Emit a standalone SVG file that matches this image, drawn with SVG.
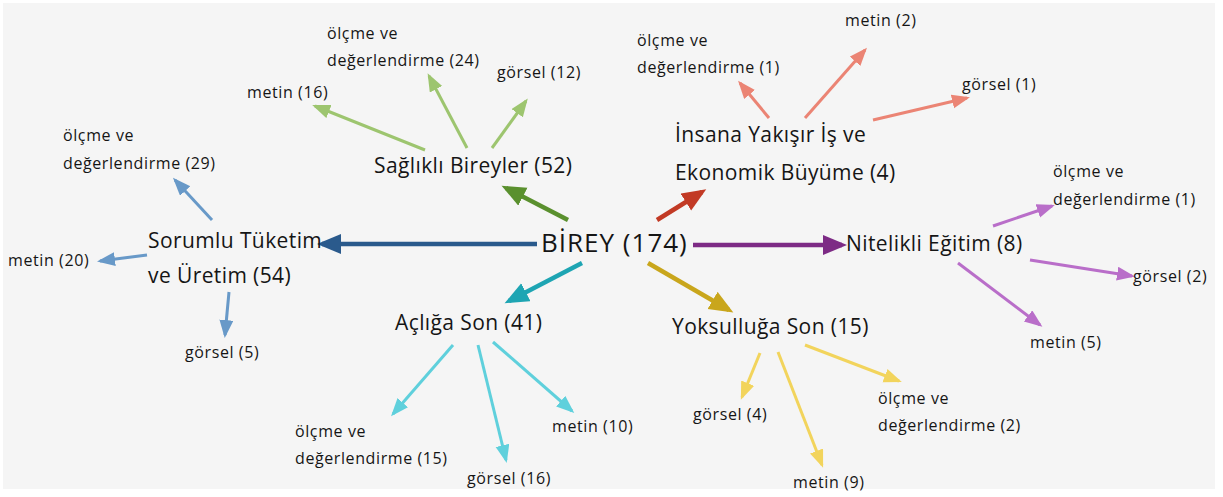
<svg xmlns="http://www.w3.org/2000/svg" width="1223" height="497" viewBox="0 0 1223 497">
<style>
text{font-family:"Open Sans","Noto Sans","DejaVu Sans",sans-serif;fill:#151515}
.c{font-size:26px;letter-spacing:1px}
.m{font-size:21px;letter-spacing:0.4px}
.s{font-size:16px;letter-spacing:0.6px}
.main{stroke-width:4.5;fill:none}
.sub{stroke-width:3;fill:none}
</style>
<defs>
<marker id="mB" markerUnits="userSpaceOnUse" markerWidth="26" markerHeight="22" refX="19" refY="10" orient="auto"><path d="M0,0L24,10L0,20z" fill="#2a5a8c"/></marker>
<marker id="mP" markerUnits="userSpaceOnUse" markerWidth="26" markerHeight="22" refX="19" refY="10" orient="auto"><path d="M0,0L24,10L0,20z" fill="#7d2b85"/></marker>
<marker id="mG" markerUnits="userSpaceOnUse" markerWidth="26" markerHeight="22" refX="19" refY="10" orient="auto"><path d="M0,0L24,10L0,20z" fill="#5a902e"/></marker>
<marker id="mR" markerUnits="userSpaceOnUse" markerWidth="26" markerHeight="22" refX="19" refY="10" orient="auto"><path d="M0,0L24,10L0,20z" fill="#c23a25"/></marker>
<marker id="mT" markerUnits="userSpaceOnUse" markerWidth="26" markerHeight="22" refX="19" refY="10" orient="auto"><path d="M0,0L24,10L0,20z" fill="#1ea5b3"/></marker>
<marker id="mY" markerUnits="userSpaceOnUse" markerWidth="26" markerHeight="22" refX="19" refY="10" orient="auto"><path d="M0,0L24,10L0,20z" fill="#c9a61c"/></marker>
<marker id="sB" markerUnits="userSpaceOnUse" markerWidth="20" markerHeight="16" refX="15" refY="7" orient="auto"><path d="M0,0L18,7L0,14z" fill="#6899c8"/></marker>
<marker id="sP" markerUnits="userSpaceOnUse" markerWidth="20" markerHeight="16" refX="15" refY="7" orient="auto"><path d="M0,0L18,7L0,14z" fill="#b96ec9"/></marker>
<marker id="sG" markerUnits="userSpaceOnUse" markerWidth="20" markerHeight="16" refX="15" refY="7" orient="auto"><path d="M0,0L18,7L0,14z" fill="#9dc56f"/></marker>
<marker id="sR" markerUnits="userSpaceOnUse" markerWidth="20" markerHeight="16" refX="15" refY="7" orient="auto"><path d="M0,0L18,7L0,14z" fill="#eb8474"/></marker>
<marker id="sT" markerUnits="userSpaceOnUse" markerWidth="20" markerHeight="16" refX="15" refY="7" orient="auto"><path d="M0,0L18,7L0,14z" fill="#5fd0dc"/></marker>
<marker id="sY" markerUnits="userSpaceOnUse" markerWidth="20" markerHeight="16" refX="15" refY="7" orient="auto"><path d="M0,0L18,7L0,14z" fill="#f2d45c"/></marker>
</defs>
<rect x="0" y="0" width="1223" height="497" fill="#ffffff"/>
<rect x="3" y="3" width="1212" height="486" fill="#f5f5f5"/>
<g id="connectors">
<line class="main" x1="537" y1="244" x2="322" y2="244" stroke="#2a5a8c" marker-end="url(#mB)"/>
<line class="main" x1="693" y1="245" x2="842" y2="245" stroke="#7d2b85" marker-end="url(#mP)"/>
<line class="main" x1="568" y1="220" x2="506" y2="188" stroke="#5a902e" marker-end="url(#mG)"/>
<line class="main" x1="657" y1="220" x2="702" y2="192" stroke="#c23a25" marker-end="url(#mR)"/>
<line class="main" x1="582" y1="263" x2="509" y2="301" stroke="#1ea5b3" marker-end="url(#mT)"/>
<line class="main" x1="648" y1="263" x2="729" y2="310" stroke="#c9a61c" marker-end="url(#mY)"/>
<line class="sub" x1="212" y1="220" x2="175" y2="180" stroke="#6899c8" marker-end="url(#sB)"/>
<line class="sub" x1="147" y1="255" x2="100" y2="261" stroke="#6899c8" marker-end="url(#sB)"/>
<line class="sub" x1="229" y1="292" x2="225" y2="335" stroke="#6899c8" marker-end="url(#sB)"/>
<line class="sub" x1="425" y1="150" x2="315" y2="106" stroke="#9dc56f" marker-end="url(#sG)"/>
<line class="sub" x1="467" y1="148" x2="429" y2="76" stroke="#9dc56f" marker-end="url(#sG)"/>
<line class="sub" x1="492" y1="148" x2="526" y2="101" stroke="#9dc56f" marker-end="url(#sG)"/>
<line class="sub" x1="769" y1="118" x2="740" y2="83" stroke="#eb8474" marker-end="url(#sR)"/>
<line class="sub" x1="805" y1="118" x2="865" y2="50" stroke="#eb8474" marker-end="url(#sR)"/>
<line class="sub" x1="873" y1="120" x2="967" y2="98" stroke="#eb8474" marker-end="url(#sR)"/>
<line class="sub" x1="993" y1="226" x2="1052" y2="206" stroke="#b96ec9" marker-end="url(#sP)"/>
<line class="sub" x1="1030" y1="260" x2="1132" y2="276" stroke="#b96ec9" marker-end="url(#sP)"/>
<line class="sub" x1="958" y1="263" x2="1040" y2="325" stroke="#b96ec9" marker-end="url(#sP)"/>
<line class="sub" x1="453" y1="345" x2="393" y2="414" stroke="#5fd0dc" marker-end="url(#sT)"/>
<line class="sub" x1="478" y1="345" x2="506" y2="460" stroke="#5fd0dc" marker-end="url(#sT)"/>
<line class="sub" x1="493" y1="342" x2="572" y2="411" stroke="#5fd0dc" marker-end="url(#sT)"/>
<line class="sub" x1="760" y1="353" x2="742" y2="397" stroke="#f2d45c" marker-end="url(#sY)"/>
<line class="sub" x1="778" y1="352" x2="822" y2="465" stroke="#f2d45c" marker-end="url(#sY)"/>
<line class="sub" x1="805" y1="345" x2="899" y2="381" stroke="#f2d45c" marker-end="url(#sY)"/>
</g>
<g id="birey"><text class="c" x="541" y="252">BİREY (174)</text></g>
<g id="sorumlu"><text class="m" x="148" y="248">Sorumlu Tüketim</text><text class="m" x="148" y="283">ve Üretim (54)</text></g>
<g id="saglikli"><text class="m" x="374" y="173">Sağlıklı Bireyler (52)</text></g>
<g id="insana"><text class="m" x="675" y="142">İnsana Yakışır İş ve</text><text class="m" x="675" y="180">Ekonomik Büyüme (4)</text></g>
<g id="nitelikli"><text class="m" x="846" y="251">Nitelikli Eğitim (8)</text></g>
<g id="acliga"><text class="m" x="395" y="330">Açlığa Son (41)</text></g>
<g id="yoksulluga"><text class="m" x="672" y="334">Yoksulluğa Son (15)</text></g>
<g id="s-olc29"><text class="s" x="63" y="141">ölçme ve</text><text class="s" x="63" y="169">değerlendirme (29)</text></g>
<g id="s-met20"><text class="s" x="8" y="266">metin (20)</text></g>
<g id="s-gor5"><text class="s" x="185" y="358">görsel (5)</text></g>
<g id="s-met16"><text class="s" x="247" y="98">metin (16)</text></g>
<g id="s-olc24"><text class="s" x="327" y="39">ölçme ve</text><text class="s" x="327" y="66">değerlendirme (24)</text></g>
<g id="s-gor12"><text class="s" x="497" y="78">görsel (12)</text></g>
<g id="s-olc1a"><text class="s" x="637" y="46">ölçme ve</text><text class="s" x="637" y="73">değerlendirme (1)</text></g>
<g id="s-met2"><text class="s" x="845" y="26">metin (2)</text></g>
<g id="s-gor1"><text class="s" x="962" y="90">görsel (1)</text></g>
<g id="s-olc1b"><text class="s" x="1053" y="177">ölçme ve</text><text class="s" x="1053" y="205">değerlendirme (1)</text></g>
<g id="s-gor2"><text class="s" x="1133" y="282">görsel (2)</text></g>
<g id="s-met5"><text class="s" x="1030" y="348">metin (5)</text></g>
<g id="s-olc15"><text class="s" x="295" y="437">ölçme ve</text><text class="s" x="295" y="464">değerlendirme (15)</text></g>
<g id="s-gor16"><text class="s" x="467" y="484">görsel (16)</text></g>
<g id="s-met10"><text class="s" x="552" y="432">metin (10)</text></g>
<g id="s-gor4"><text class="s" x="693" y="420">görsel (4)</text></g>
<g id="s-met9"><text class="s" x="793" y="488">metin (9)</text></g>
<g id="s-olc2"><text class="s" x="878" y="404">ölçme ve</text><text class="s" x="878" y="431">değerlendirme (2)</text></g>
</svg>
